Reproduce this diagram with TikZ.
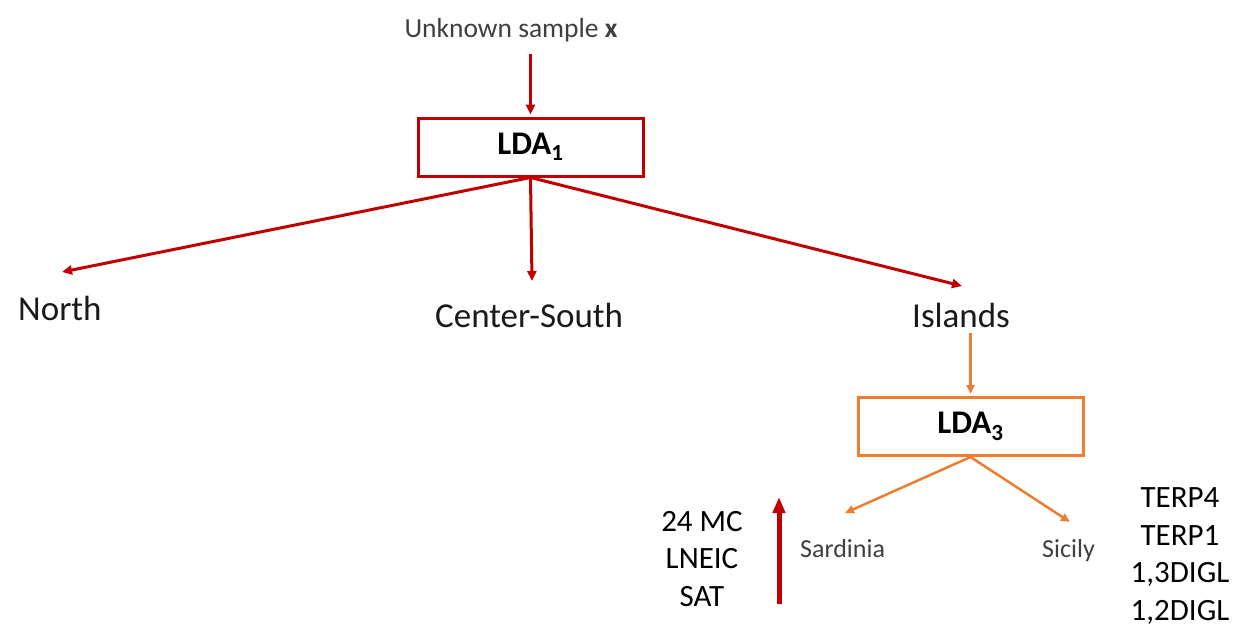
\documentclass[tikz,border=0pt]{standalone}
\usepackage{fontspec}
\setmainfont{Carlito}
\usetikzlibrary{arrows.meta}
\definecolor{darkred}{HTML}{C00000}
\definecolor{orng}{HTML}{ED7D31}
\definecolor{txtgray}{HTML}{3F3F3F}
\definecolor{txtdark}{HTML}{1A1A1A}
\tikzset{
  redarr/.style={draw=darkred, line width=3pt, -{Triangle[length=10pt,width=9pt]}},
  orarr/.style={draw=orng, line width=2.5pt, -{Triangle[length=9pt,width=8pt]}},
  bigarr/.style={draw=darkred, line width=5pt, -{Triangle[length=16pt,width=12pt]}},
  ldabox/.style={draw, line width=3pt, fill=white, minimum width=225pt, minimum height=58pt, inner sep=0pt, font=\fontsize{33}{38}\selectfont\bfseries},
  region/.style={inner sep=0pt, text=txtdark, font=\fontsize{35}{40}\selectfont},
  small/.style={inner sep=0pt, text=txtgray, font=\fontsize{26}{30}\selectfont},
  varlist/.style={inner sep=0pt, align=center, text=black, font=\fontsize{31}{37.5}\selectfont}
}
\begin{document}
\begin{tikzpicture}[x=1pt,y=-1pt]
\useasboundingbox (0,0) rectangle (1242,627);
% top
\node[small, font=\fontsize{27.5}{32}\selectfont] (unk) at (511,30) {Unknown sample \textbf{x}};
\node[ldabox, draw=darkred] (lda1) at (530.5,147) {LDA\textsubscript{1}};
\draw[redarr, shorten >=2pt] ([yshift=-12pt]unk.south -| lda1.north) -- (lda1.north);
% regions
\node[region, anchor=base west] (north) at (18,320) {North};
\node[region, anchor=base west] (cs) at (435,327) {Center-South};
\node[region, anchor=base west] (isl) at (912,327) {Islands};
\coordinate (tN) at (62,272);
\coordinate (tC) at (532,281);
\coordinate (tI) at (962,286);
\draw[redarr] (lda1.south) -- (tN);
\draw[redarr] (lda1.south) -- (tC);
\draw[redarr] (lda1.south) -- (tI);
% LDA3
\node[ldabox, draw=orng] (lda3) at (970.5,426.5) {LDA\textsubscript{3}};
\draw[orarr, shorten <=6pt, shorten >=2pt] (isl.south -| lda3.north) -- (lda3.north);
\node[small, anchor=base west] (sard) at (800,557) {Sardinia};
\node[small, anchor=base west] (sic) at (1042,557) {Sicily};
\coordinate (tS) at (845,513);
\coordinate (tSi) at (1070,522);
\draw[orarr] (lda3.south) -- (tS);
\draw[orarr] (lda3.south) -- (tSi);
% lists and big arrow
\node[varlist] (lst1) at (702,559) {24 MC\\LNEIC\\SAT};
\node[varlist] (lst2) at (1180,556) {TERP4\\TERP1\\1,3DIGL\\1,2DIGL};
\coordinate (bigA) at (779,604);
\coordinate (bigB) at (779,497);
\draw[bigarr] (bigA) -- (bigB);
\end{tikzpicture}
\end{document}
